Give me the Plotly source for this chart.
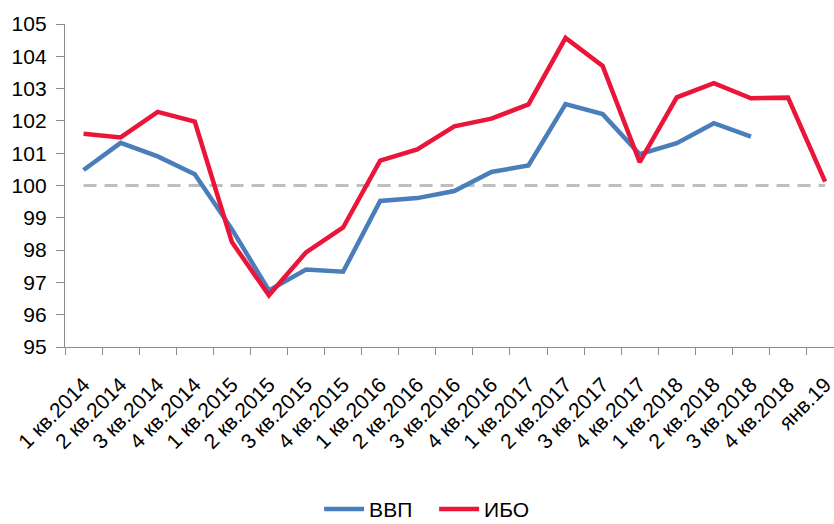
import plotly.graph_objects as go

categories = ["1 кв.2014", "2 кв.2014", "3 кв.2014", "4 кв.2014",
              "1 кв.2015", "2 кв.2015", "3 кв.2015", "4 кв.2015",
              "1 кв.2016", "2 кв.2016", "3 кв.2016", "4 кв.2016",
              "1 кв.2017", "2 кв.2017", "3 кв.2017", "4 кв.2017",
              "1 кв.2018", "2 кв.2018", "3 кв.2018", "4 кв.2018", "янв.19"]

vvp = [100.48, 101.32, 100.9, 100.35, 98.65, 96.75, 97.4, 97.33, 99.52, 99.61,
       99.83, 100.42, 100.62, 102.52, 102.21, 100.97, 101.31, 101.93, 101.51,
       None, None]

ibo = [101.6, 101.49, 102.28, 101.98, 98.25, 96.6, 97.93, 98.7, 100.77, 101.12,
       101.83, 102.07, 102.51, 104.57, 103.7, 100.72, 102.73, 103.17, 102.7,
       102.72, 100.12]

baseline = [100] * len(categories)

BLUE = "#4A7EBB"
RED = "#EA1539"
AXIS = "#8C8C8C"
FONT = "Liberation Sans, Arial, sans-serif"

fig = go.Figure()
fig.add_trace(go.Scatter(x=categories, y=baseline, mode="lines",
                         line=dict(color="#BFBFBF", width=3, dash="13px,8px"),
                         showlegend=False, hoverinfo="skip"))
fig.add_trace(go.Scatter(x=categories, y=vvp, mode="lines", name="ВВП",
                         line=dict(color=BLUE, width=4.5)))
fig.add_trace(go.Scatter(x=categories, y=ibo, mode="lines", name="ИБО",
                         line=dict(color=RED, width=4.5)))

fig.update_layout(
    width=834, height=524,
    margin=dict(l=65, r=0, t=24, b=177),
    paper_bgcolor="white", plot_bgcolor="white",
    font=dict(family=FONT, color="#000000"),
    showlegend=True,
    legend=dict(orientation="h", xref="paper", x=0.48, xanchor="center",
                yref="container", y=0.028, yanchor="middle",
                font=dict(size=21, family=FONT),
                itemwidth=40, entrywidth=60, tracegroupgap=0),
    xaxis=dict(type="category", range=[-0.5, 20.24], tickson="boundaries",
               showline=True, linecolor=AXIS, linewidth=1.3,
               ticks="outside", ticklen=7, tickcolor=AXIS, tickwidth=1.3,
               tickangle=-45, tickfont=dict(size=21, family=FONT),
               showgrid=False, zeroline=False, automargin=False,
               ticklabelstandoff=16),
    yaxis=dict(range=[95, 105], dtick=1, showline=True, linecolor=AXIS,
               linewidth=1.3, ticks="outside", ticklen=8, tickcolor=AXIS,
               tickwidth=1.3, tickfont=dict(size=21, family=FONT),
               showgrid=False, zeroline=False, ticklabelstandoff=5,
               automargin=False),
)

fig.write_html("out.html", config={"displayModeBar": False},
               post_script="document.body.style.margin='0px';document.body.style.overflow='hidden';")
